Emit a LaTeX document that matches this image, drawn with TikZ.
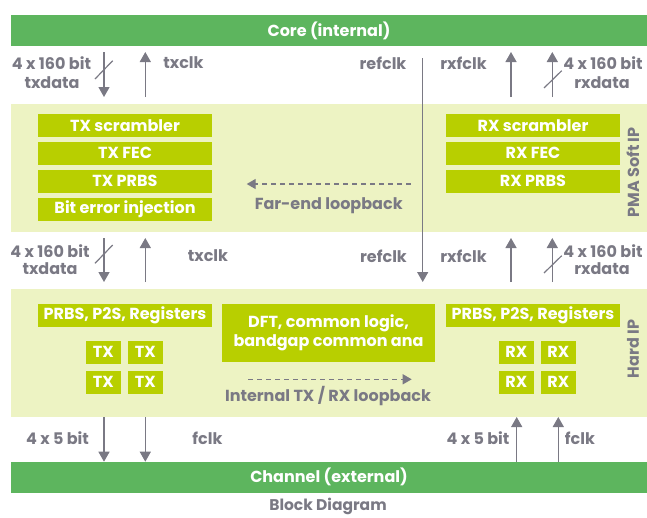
\documentclass[tikz,border=0pt]{standalone}
\usepackage{fontspec}
\setmainfont{Poppins}
\usetikzlibrary{arrows.meta}
\definecolor{barc}{HTML}{5DB55E}
\definecolor{panelc}{HTML}{EDF3C3}
\definecolor{limec}{HTML}{B8CF00}
\definecolor{grc}{HTML}{7A7984}
\begin{document}
\begin{tikzpicture}[x=1pt,y=-1pt,
  bigbar/.style={fill=barc, text=white, inner sep=0, minimum width=636pt, minimum height=31pt, font=\bfseries\fontsize{16}{18}\selectfont},
  panel/.style={fill=panelc, inner sep=0, minimum width=636pt, minimum height=128pt},
  box/.style={fill=limec, text=white, inner sep=0, minimum width=174pt, minimum height=22.7pt, font=\bfseries\fontsize{16}{18}\selectfont},
  sbox/.style={box, minimum width=34.7pt},
  lbl/.style={text=grc, inner sep=0, font=\bfseries\fontsize{16}{18}\selectfont},
  arr/.style={draw=grc, line width=1.3pt, -{Triangle[length=10pt,width=11pt]}},
  slash/.style={draw=grc, line width=1.2pt},
  dasharr/.style={draw=grc, line width=1.3pt, dash pattern=on 5pt off 4pt, -{Triangle[length=9pt,width=10pt]}}
]
\useasboundingbox (0,0) rectangle (647,517);
% bars and panels
\node[bigbar] (core) at (329,30.5) {Core (internal)};
\node[panel] (soft) at (329,168) {};
\node[panel] (hard) at (329,353) {};
\node[bigbar] (chan) at (329,477.2) {Channel (external)};
% soft IP boxes
\node[box] (txs) at (125,125.3) {TX scrambler};
\node[box] (txf) at (125,153.3) {TX FEC};
\node[box] (txp) at (125,181.3) {TX PRBS};
\node[box] (bei) at (125,209.3) {Bit error injection};
\node[box] (rxs) at (533,125.3) {RX scrambler};
\node[box] (rxf) at (533,153.3) {RX FEC};
\node[box] (rxp) at (533,181.3) {RX PRBS};
\node[lbl, rotate=90] (softlbl) at (633,172.5) {PMA Soft IP};
% hard IP boxes
\node[box] (prbsl) at (125,315.3) {PRBS, P2S, Registers};
\node[box] (prbsr) at (533,315.3) {PRBS, P2S, Registers};
\node[box, minimum width=213pt, minimum height=57.7pt, align=center, font=\bfseries\fontsize{16}{19}\selectfont] (dft) at (328.5,332.8) {DFT, common logic,\\bandgap common ana};
\node[sbox] (tx1) at (103.3,352.3) {TX};
\node[sbox] (tx2) at (145.3,352.3) {TX};
\node[sbox] (tx3) at (103.3,382.3) {TX};
\node[sbox] (tx4) at (145.3,382.3) {TX};
\node[sbox] (rx1) at (516.3,352.3) {RX};
\node[sbox] (rx2) at (558.3,352.3) {RX};
\node[sbox] (rx3) at (516.3,382.3) {RX};
\node[sbox] (rx4) at (558.3,382.3) {RX};
\node[lbl, rotate=90] (hardlbl) at (633,349) {Hard IP};
% loopbacks
\coordinate (fe1) at (410.7,184);
\coordinate (fe2) at (246.7,184);
\draw[dasharr] (fe1) -- (fe2);
\node[lbl] (fel) at (328.7,206) {Far-end loopback};
\coordinate (il1) at (248.3,379.3);
\coordinate (il2) at (411.7,379.3);
\draw[dasharr] (il1) -- (il2);
\node[lbl] (ill) at (328,395.7) {Internal TX / RX loopback};
% top arrows
\coordinate (a1s) at (104,52);   \coordinate (a1e) at (104,97);
\coordinate (a2s) at (145.3,97); \coordinate (a2e) at (145.3,52);
\coordinate (rfs) at (422.7,58); \coordinate (rfe) at (422.7,282);
\coordinate (a3s) at (511,97);   \coordinate (a3e) at (511,52);
\coordinate (a4s) at (552.3,97); \coordinate (a4e) at (552.3,52);
\draw[arr] (a1s) -- (a1e);
\draw[arr] (a2s) -- (a2e);
\draw[arr] (rfs) -- (rfe);
\draw[arr] (a3s) -- (a3e);
\draw[arr] (a4s) -- (a4e);
\coordinate (sl1a) at (95,79);   \coordinate (sl1b) at (112.7,60.7);
\coordinate (sl2a) at (544,88);  \coordinate (sl2b) at (561.7,70.7);
\draw[slash] (sl1a) -- (sl1b);
\draw[slash] (sl2a) -- (sl2b);
\node[lbl] (l1) at (51.5,63) {4 x 160 bit};
\node[lbl] (l2) at (52,83) {txdata};
\node[lbl] (l3) at (183.5,63) {txclk};
\node[lbl] (l4) at (383,63) {refclk};
\node[lbl] (l5) at (463.5,63) {rxfclk};
\node[lbl] (l6) at (603,63) {4 x 160 bit};
\node[lbl] (l7) at (602,83) {rxdata};
% middle arrows
\coordinate (b1s) at (104,238);   \coordinate (b1e) at (104,282);
\coordinate (b2s) at (145.3,282); \coordinate (b2e) at (145.3,238);
\coordinate (b3s) at (511,282);   \coordinate (b3e) at (511,238);
\coordinate (b4s) at (552.3,282); \coordinate (b4e) at (552.3,238);
\draw[arr] (b1s) -- (b1e);
\draw[arr] (b2s) -- (b2e);
\draw[arr] (b3s) -- (b3e);
\draw[arr] (b4s) -- (b4e);
\coordinate (sl3a) at (95,263.3);  \coordinate (sl3b) at (112.7,245);
\coordinate (sl4a) at (544,273);   \coordinate (sl4b) at (561.7,255.7);
\draw[slash] (sl3a) -- (sl3b);
\draw[slash] (sl4a) -- (sl4b);
\node[lbl] (m1) at (50,250.7) {4 x 160 bit};
\node[lbl] (m2) at (50,269) {txdata};
\node[lbl] (m3) at (208,256) {txclk};
\node[lbl] (m4) at (383.5,256) {refclk};
\node[lbl] (m5) at (463.5,256) {rxfclk};
\node[lbl] (m6) at (603,250.7) {4 x 160 bit};
\node[lbl] (m7) at (602,269) {rxdata};
% bottom arrows
\coordinate (c1s) at (104,417);    \coordinate (c1e) at (104,461.7);
\coordinate (c2s) at (145.3,417);  \coordinate (c2e) at (145.3,461.7);
\coordinate (c3s) at (516.7,461.7); \coordinate (c3e) at (516.7,417);
\coordinate (c4s) at (558.3,461.7); \coordinate (c4e) at (558.3,417);
\draw[arr] (c1s) -- (c1e);
\draw[arr] (c2s) -- (c2e);
\draw[arr] (c3s) -- (c3e);
\draw[arr] (c4s) -- (c4e);
\node[lbl] (n1) at (57.5,438) {4 x 5 bit};
\node[lbl] (n2) at (207.5,438) {fclk};
\node[lbl] (n3) at (478,438) {4 x 5 bit};
\node[lbl] (n4) at (580,438) {fclk};
\node[lbl, font=\bfseries\fontsize{15.5}{17}\selectfont] (title) at (328,506.5) {Block Diagram};
\end{tikzpicture}
\end{document}
